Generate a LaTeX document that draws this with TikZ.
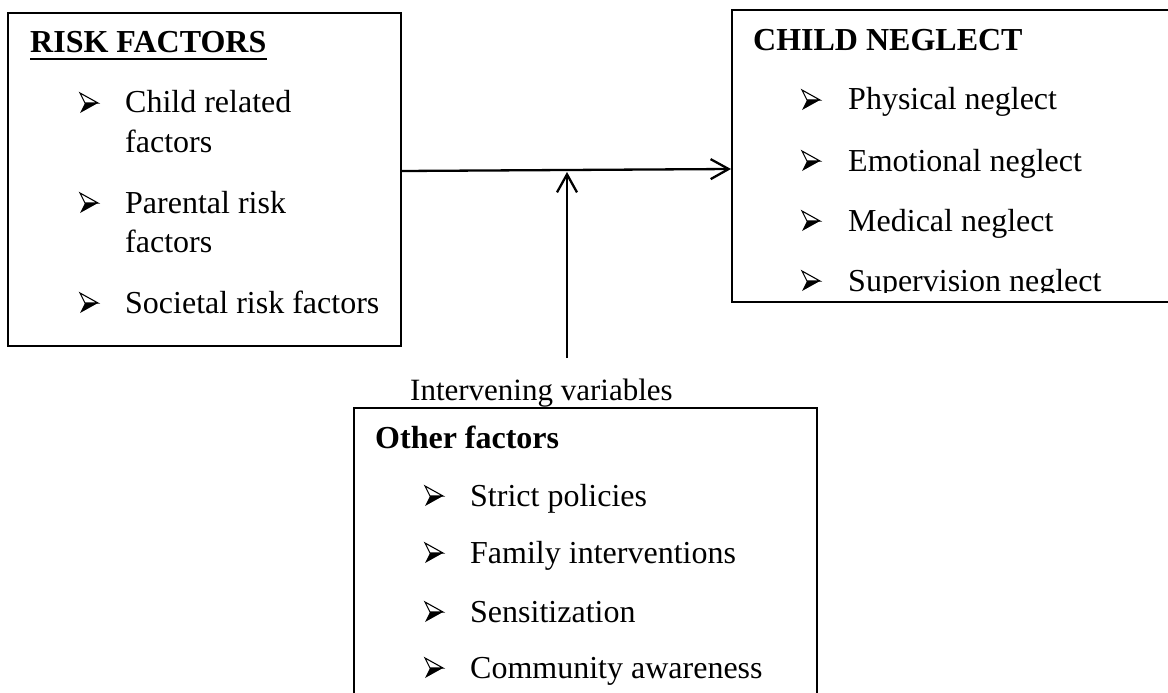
\documentclass[tikz,border=0pt]{standalone}
\usepackage{fontspec}
\setmainfont{Liberation Serif}
\usetikzlibrary{arrows.meta}
\begin{document}
\begin{tikzpicture}[x=1pt,y=-1pt,
  box/.style={draw,line width=2pt,inner sep=0pt},
  txt/.style={anchor=base west,inner sep=0pt,font=\fontsize{32}{38}\selectfont},
  ttl/.style={anchor=base west,inner sep=0pt,font=\fontsize{32}{38}\selectfont\bfseries},
  arr/.style={line width=2.3pt,-{Straight Barb[length=18pt,width=20pt,line width=2.3pt]}},
  bul/.pic={
    \fill[black] (0,0) -- (18,-10) -- (5,-10) -- cycle;
    \draw[line width=1.1pt,line join=miter] (0,-20) -- (18,-10) -- (5,-10) -- cycle;
  }]
\useasboundingbox (0,0) rectangle (1168,693);
% boxes
\node[box,minimum width=393pt,minimum height=333pt] (rf) at (204.5,179.5) {};
\node[box,minimum width=446pt,minimum height=292pt] (cn) at (955,156) {};
\node[box,minimum width=463pt,minimum height=300pt] (of) at (585.5,558) {};
% risk factors
\node[ttl] (t1) at (30,53) {RISK FACTORS};
\draw[line width=2.5pt] ([yshift=-6pt]t1.base west) -- ([yshift=-6pt]t1.base east);
\pic at (80,113) {bul};
\node[txt] (r1) at (125,113) {Child related};
\node[txt] (r1b) at (125,152) {factors};
\pic at (80,213) {bul};
\node[txt] (r2) at (125,213) {Parental risk};
\node[txt] (r2b) at (125,252) {factors};
\pic at (80,313) {bul};
\node[txt] (r3) at (125,313) {Societal risk factors};
% child neglect
\node[ttl] (t2) at (753,51) {CHILD NEGLECT};
\pic at (802,110) {bul};
\node[txt] (c1) at (848,110) {Physical neglect};
\pic at (802,171) {bul};
\node[txt] (c2) at (848,171) {Emotional neglect};
\pic at (802,231) {bul};
\node[txt] (c3) at (848,231) {Medical neglect};
\begin{scope}
\clip (732,10) rectangle (1168,292);
\pic at (802,291) {bul};
\node[txt] (c4) at (848,291) {Supervision neglect};
\end{scope}
% other factors
\node[txt,font=\fontsize{31}{36}\selectfont] (iv) at (410,400) {Intervening variables};
\node[ttl] (t3) at (375,448) {Other factors};
\pic at (425,506) {bul};
\node[txt] (o1) at (470,506) {Strict policies};
\pic at (425,563) {bul};
\node[txt] (o2) at (470,563) {Family interventions};
\pic at (425,622) {bul};
\node[txt] (o3) at (470,622) {Sensitization};
\pic at (425,678) {bul};
\node[txt] (o4) at (470,678) {Community awareness};
% connectors
\coordinate (hs) at ([yshift=8.5pt]rf.east);
\coordinate (he) at ([yshift=-13pt]cn.west);
\coordinate (vs) at (567,358);
\coordinate (ve) at (567,172);
\draw[arr] (hs) -- (he);
\draw[arr] (vs) -- (ve);
\end{tikzpicture}
\end{document}
